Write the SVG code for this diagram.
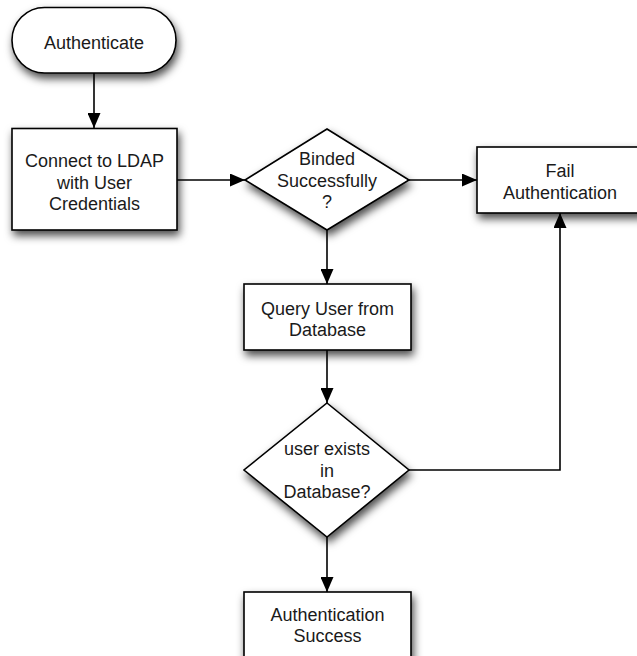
<svg xmlns="http://www.w3.org/2000/svg" width="637" height="656" viewBox="0 0 637 656">
<style>
.shape{fill:#fff;stroke:#000;stroke-width:1.6;filter:url(#sh)}
.lbl{font-family:"Liberation Sans",Arial,sans-serif;font-size:18px;fill:#1a1a1a;text-anchor:middle}
.edge{fill:none;stroke:#000;stroke-width:1.6}
</style>
<defs>
<filter id="sh" x="-20%" y="-20%" width="150%" height="160%">
<feDropShadow dx="2" dy="5" stdDeviation="4" flood-color="#000" flood-opacity="0.7"/>
</filter>
<marker id="ah" viewBox="0 0 15 13" refX="15" refY="6.5" markerWidth="15" markerHeight="13" markerUnits="userSpaceOnUse" orient="auto">
<path d="M0,0 L15,6.5 L0,13 Z" fill="#000"/>
</marker>
</defs>
<g id="connectors">
<path class="edge" d="M94,73 L94,128" marker-end="url(#ah)"/>
<path class="edge" d="M177,180 L245,180" marker-end="url(#ah)"/>
<path class="edge" d="M409,180 L477,180" marker-end="url(#ah)"/>
<path class="edge" d="M327,230 L327,284" marker-end="url(#ah)"/>
<path class="edge" d="M327,350 L327,403" marker-end="url(#ah)"/>
<path class="edge" d="M409,470 L560,470 L560,213" marker-end="url(#ah)"/>
<path class="edge" d="M327,537 L327,592" marker-end="url(#ah)"/>
</g>
<g id="authenticate">
<rect class="shape" x="12" y="7.5" width="164" height="65.5" rx="32.5" ry="32.5"/>
<text class="lbl" x="94" y="49">Authenticate</text>
</g>
<g id="connect">
<rect class="shape" x="12" y="128.5" width="165" height="101.5"/>
<text class="lbl" x="94.5" y="167">Connect to LDAP</text>
<text class="lbl" x="94.5" y="188.5">with User</text>
<text class="lbl" x="94.5" y="210">Credentials</text>
</g>
<g id="binded">
<polygon class="shape" points="327,129 409,180 327,230 245,180"/>
<text class="lbl" x="327" y="165">Binded</text>
<text class="lbl" x="327" y="187">Successfully</text>
<text class="lbl" x="327" y="208">?</text>
</g>
<g id="fail">
<rect class="shape" x="477" y="147" width="166" height="66"/>
<text class="lbl" x="560" y="177">Fail</text>
<text class="lbl" x="560" y="199">Authentication</text>
</g>
<g id="query">
<rect class="shape" x="244" y="284" width="167" height="66"/>
<text class="lbl" x="327.5" y="315">Query User from</text>
<text class="lbl" x="327.5" y="336">Database</text>
</g>
<g id="exists">
<polygon class="shape" points="327,403 409,470 327,537 244,470"/>
<text class="lbl" x="327" y="455">user exists</text>
<text class="lbl" x="327" y="477">in</text>
<text class="lbl" x="327" y="498">Database?</text>
</g>
<g id="success">
<rect class="shape" x="244" y="592" width="167" height="80"/>
<text class="lbl" x="327.5" y="621">Authentication</text>
<text class="lbl" x="327.5" y="642">Success</text>
</g>
</svg>
